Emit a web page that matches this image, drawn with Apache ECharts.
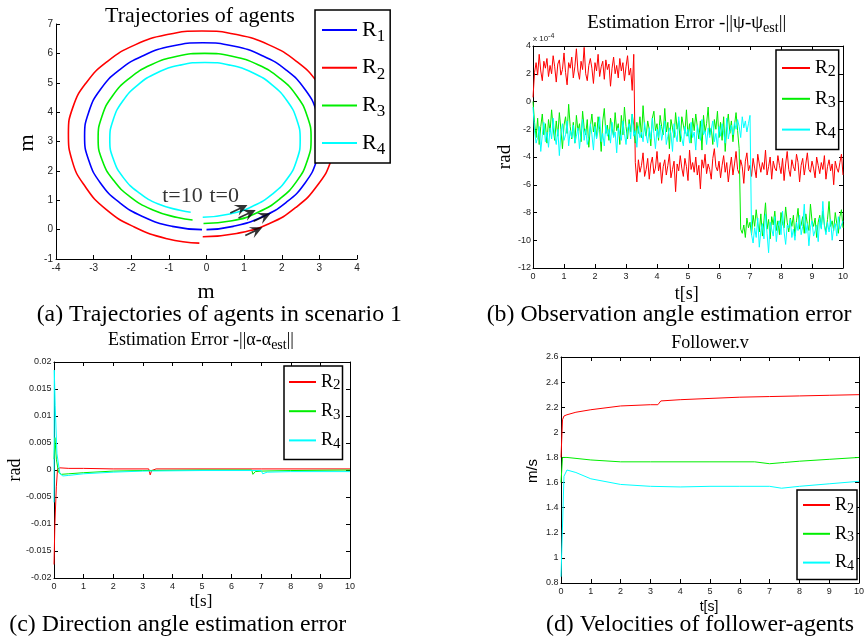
<!DOCTYPE html>
<html><head><meta charset="utf-8">
<script src="https://cdn.jsdelivr.net/npm/echarts@6/dist/echarts.min.js"></script>
<style>html,body{margin:0;padding:0;background:#fff}#c{width:867px;height:638px}</style>
</head><body><div id="c"></div>
<script>
// ---------- Panel (a): trajectories [x, y] in m ----------
const trajR1 = [[0.0,0.0],[0.71,0.11],[1.47,0.43],[2.12,0.93],[2.62,1.59],[2.93,2.36],[3.04,3.18],[2.93,4.00],[2.62,4.77],[2.12,5.43],[1.47,5.93],[0.71,6.25],[-0.1,6.36],[-0.91,6.25],[-1.67,5.93],[-2.32,5.43],[-2.82,4.77],[-3.13,4.00],[-3.24,3.18],[-3.13,2.36],[-2.82,1.59],[-2.32,0.93],[-1.67,0.43],[-0.91,0.11],[-0.12,0.0]];
const trajR2 = [[-0.1,-0.24],[0.80,-0.13],[1.66,0.20],[2.39,0.77],[2.95,1.51],[3.31,2.35],[3.43,3.26],[3.31,4.17],[2.95,5.01],[2.39,5.73],[1.66,6.29],[0.80,6.64],[-0.12,6.76],[-1.04,6.64],[-1.90,6.29],[-2.63,5.73],[-3.19,5.01],[-3.55,4.17],[-3.67,3.26],[-3.57,2.34],[-3.22,1.46],[-2.67,0.69],[-1.92,0.09],[-1.05,-0.31],[-0.19,-0.46]];
const trajR3 = [[-0.08,0.21],[0.68,0.30],[1.37,0.59],[1.95,1.05],[2.40,1.65],[2.68,2.35],[2.78,3.1],[2.68,3.85],[2.40,4.55],[1.95,5.15],[1.37,5.61],[0.68,5.90],[-0.05,6.0],[-0.78,5.90],[-1.47,5.61],[-2.05,5.15],[-2.50,4.55],[-2.78,3.85],[-2.88,3.1],[-2.77,2.35],[-2.47,1.68],[-2.02,1.11],[-1.44,0.68],[-0.77,0.41],[-0.37,0.33]];
const trajR4 = [[-0.1,0.42],[0.62,0.53],[1.23,0.80],[1.75,1.21],[2.15,1.74],[2.40,2.37],[2.49,3.055],[2.40,3.74],[2.15,4.37],[1.75,4.92],[1.23,5.34],[0.62,5.60],[-0.04,5.69],[-0.70,5.60],[-1.31,5.34],[-1.83,4.92],[-2.23,4.37],[-2.48,3.74],[-2.57,3.055],[-2.47,2.38],[-2.21,1.77],[-1.79,1.25],[-1.28,0.87],[-0.68,0.65],[-0.42,0.59]];
const arrowPoints = [[0.86,0.70],[1.08,0.53],[1.48,0.42],[1.26,-0.06]];
const timeLabels = [[-0.64,1.14,'t=10'],[0.47,1.14,'t=0']];

// ---------- Panel (b): observation angle error (x 1e-4 rad), sampled every 0.05 s ----------
const psiStep = 0.05;
const psiR2 = [0.3,2.1,
2.8,1.9,3.4,2.2,1.5,2.9,2.4,3.1,1.8,2.6,
2.0,3.3,2.5,1.4,2.7,3.0,1.9,2.3,3.5,2.1,
1.2,2.8,2.4,3.2,1.7,2.5,3.8,2.2,1.6,2.9,
2.3,3.9,2.0,1.5,2.6,3.1,2.4,1.3,2.8,2.2,
3.4,1.8,2.5,2.9,1.6,3.0,2.3,2.7,1.1,2.4,
3.2,2.0,2.6,1.7,3.1,2.2,2.8,1.5,2.5,3.3,
1.9,2.4,0.8,3.4,
-4.4,
-5.8,-4.2,-5.1,-4.6,-3.7,-5.4,-4.9,-4.1,-5.6,-4.5,
-4.0,-5.2,-4.8,-3.6,-5.0,-4.4,-5.9,-4.7,-4.2,-5.3,
-4.6,-3.8,-5.5,-4.9,-4.3,-6.5,-4.5,-5.0,-3.9,-4.8,
-5.4,-4.1,-4.7,-5.7,-3.5,-4.9,-4.4,-5.1,-4.0,-5.3,
-4.6,-6.3,-4.2,-4.8,-3.8,-5.2,-4.5,-4.9,-5.6,-4.1,
-3.4,-4.7,-5.0,-4.3,-5.5,-4.6,-3.9,-5.1,-4.4,-5.8,
-4.8,-4.0,-5.3,-4.5,-3.6,-4.9,-5.2,-4.2,-4.7,-5.9,
-4.3,-3.7,-5.0,-4.6,-5.4,-4.1,-4.8,-5.5,-3.8,-4.5,
-5.1,-4.4,-4.9,-3.5,-5.3,-4.7,-4.0,-5.6,-4.3,-4.8,
-5.0,-3.9,-4.6,-5.2,-4.1,-5.7,-4.5,-3.6,-4.9,-5.4,
-4.2,-4.7,-5.0,-3.8,-4.4,-5.8,-4.6,-4.1,-5.3,-4.5,
-3.7,-4.9,-5.1,-4.3,-4.8,-5.5,-4.0,-4.6,-5.2,-4.4,
-4.9,-3.9,-5.6,-4.7,-4.2,-5.0,-4.5,-6.0,-4.3,-4.8,
-5.1,-4.4,-3.8,-5.3];
const psiR3 = [0.0,
-1.5,-2.6,-1.2,-3.1,-1.8,-0.9,-2.4,-1.6,-3.0,-1.3,
-2.2,-0.6,-1.9,-2.8,-1.4,-2.5,-0.8,-2.0,-3.4,-1.7,
-1.1,-2.3,-0.2,-1.8,-2.7,-1.5,-3.0,-1.0,-2.1,-1.6,
-2.9,-0.7,-1.9,-2.4,-1.3,-3.3,-1.8,-0.9,-2.2,-1.5,
-2.6,-1.1,-2.0,-3.6,-1.4,-0.5,-2.3,-1.7,-2.8,-1.2,
-1.9,-2.5,-0.8,-2.1,-1.6,-3.1,-1.0,-2.4,-0.4,-1.8,
-2.7,-1.3,-2.2,-0.9,-1.7,-3.0,-1.5,-2.3,-1.1,-2.6,
-0.3,-1.9,-2.5,-1.4,-2.0,-3.2,-1.2,-0.7,-2.1,-1.6,
-2.8,-1.0,-1.8,-2.4,-0.5,-2.2,-1.5,-3.4,-1.3,-1.9,
-2.6,-0.8,-2.0,-1.4,-2.9,-1.1,-1.7,-2.3,-0.6,-2.5,
-1.6,-3.0,-1.2,-2.1,-0.9,-1.8,-2.7,-1.4,-3.5,-1.0,
-2.2,-1.6,-0.4,-2.4,-1.9,-3.1,-1.3,-2.0,-0.7,-2.6,
-1.5,-2.8,-1.1,-3.6,-1.8,-0.9,-2.3,-1.4,-2.9,-1.7,
-0.8,-2.1,-3.4,
-9.2,
-9.5,-8.9,-9.8,-8.4,-9.1,-8.7,-9.6,-8.2,-9.0,-7.8,
-8.8,-9.4,-8.1,-9.7,-8.6,-7.3,-9.2,-8.5,-9.9,-8.3,
-8.9,-7.9,-9.3,-8.6,-9.6,-8.0,-8.8,-9.1,-7.6,-8.7,
-9.4,-8.4,-9.0,-8.2,-9.7,-8.6,-7.7,-9.2,-8.9,-8.3,
-9.5,-8.1,-8.8,-9.3,-7.4,-8.6,-9.0,-8.4,-9.8,-8.7,
-8.2,-9.1,-7.9,-8.9,-9.4,-8.5,-7.2,-9.0,-8.6,-9.3,
-8.0,-8.8,-9.5,-8.3,-7.8,-9.1];
const psiR4 = [-0.4,
-2.1,-3.0,-2.6,-1.8,-3.6,-2.4,-1.5,-2.9,-2.2,-3.3,
-1.9,-2.7,-1.2,-2.5,-3.1,-2.0,-3.9,-2.3,-1.6,-2.8,
-2.4,-1.4,-3.2,-2.1,-2.6,-1.7,-3.0,-2.5,-1.9,-3.4,
-2.2,-1.3,-2.8,-2.0,-3.1,-2.6,-1.6,-2.4,-3.5,-1.8,
-2.7,-2.1,-1.1,-2.9,-2.3,-3.2,-1.7,-2.5,-2.0,-3.0,
-1.5,-2.6,-2.2,-3.7,-1.9,-2.4,-2.8,-1.4,-2.3,-3.1,
-2.0,-1.6,-2.7,-0.9,-2.5,-2.1,-3.3,-1.8,-2.6,-2.2,
-2.9,-1.5,-2.4,-3.0,-1.9,-2.7,-1.2,-2.3,-3.4,-2.0,
-2.6,-1.7,-2.8,-2.2,-1.4,-3.1,-2.5,-1.9,-2.3,-3.6,
-1.6,-2.4,-2.9,-1.1,-2.1,-2.7,-3.2,-1.8,-2.5,-2.0,
-3.0,-1.5,-2.6,-2.2,-3.5,-1.7,-2.3,-2.8,-1.3,-2.4,
-2.1,-3.1,-1.9,-2.6,-2.0,-1.4,-2.9,-2.3,-3.3,-1.8,
-2.5,-1.6,-2.2,-3.0,-1.2,-2.7,-2.1,-1.7,-2.4,-1.5,
-2.0,-1.3,-1.8,-2.6,-1.1,-1.9,-1.4,-2.2,-1.6,-1.0,
-9.6,
-10.2,-9.1,-9.8,-8.4,-10.5,-9.3,-8.8,-9.9,-8.1,-9.5,
-10.9,-8.7,-9.2,-9.7,-8.3,-10.1,-9.0,-8.6,-9.6,-7.9,
-9.4,-10.3,-8.9,-9.1,-8.5,-9.8,-9.2,-10.0,-8.7,-9.3,
-8.2,-9.6,-9.0,-7.4,-9.5,-8.8,-10.4,-9.1,-8.6,-9.7,
-9.3,-8.9,-10.1,-8.4,-9.2,-7.2,-9.0,-9.6,-8.7,-9.4,
-8.5,-10.0,-9.1,-8.8,-9.7,-8.3,-9.2,-8.9,-8.6];

// ---------- Panel (c): direction angle error [t, rad] ----------
const alphaR2 = [[0,-0.0175],[0.03,-0.010],[0.08,-0.003],[0.12,0.0002],[0.2,0.0004],[0.5,0.0003],[1,0.0003],[2,0.0002],[3.2,0.0002],[3.25,-0.0009],[3.3,-0.0001],[3.45,0.0002],[5,0.0002],[7,0.0002],[10,0.0002]];
const alphaR3 = [[0,0.002],[0.03,0.006],[0.08,0.002],[0.15,-0.0004],[0.25,-0.0008],[0.5,-0.0007],[1,-0.0005],[2,-0.0002],[3,-0.0001],[5,0],[6.68,0],[6.72,-0.0008],[6.8,-0.0003],[7,-0.0002],[8,-0.0001],[10,0]];
const alphaR4 = [[0,-0.006],[0.01,0.0185],[0.04,0.012],[0.1,0.003],[0.2,-0.0007],[0.3,-0.0011],[0.5,-0.001],[1,-0.0007],[2,-0.0004],[3,-0.0002],[5,-0.0001],[7.0,-0.0001],[7.05,-0.0007],[7.2,-0.0004],[8,-0.0003],[10,-0.0003]];

// ---------- Panel (d): follower velocities [t, m/s] ----------
const velR2 = [[0,1.8],[0.05,2.1],[0.1,2.13],[0.2,2.14],[0.5,2.16],[1,2.18],[2,2.21],[3,2.22],[3.25,2.22],[3.35,2.25],[4,2.26],[5,2.27],[6,2.28],[7,2.285],[8,2.29],[9,2.295],[10,2.3]];
const velR3 = [[0,1.6],[0.05,1.8],[0.2,1.8],[1,1.78],[2,1.765],[3,1.765],[5,1.765],[6.5,1.765],[7,1.75],[7.5,1.76],[8,1.77],[9,1.785],[10,1.8]];
const velR4 = [[0,0.85],[0.1,1.65],[0.2,1.7],[0.5,1.68],[1,1.63],[2,1.585],[3,1.57],[4,1.565],[5,1.57],[6,1.57],[7,1.57],[7.4,1.555],[8,1.57],[9,1.59],[10,1.61]];

const colors = {R1:'#0000ff', R2:'#ff0000', R3:'#00ee00', R4:'#00ffff'};
const SERIF = 'Liberation Serif';
const SANS = 'Liberation Sans';

const toPairs = arr => arr.map((v, i) => [+(i * psiStep).toFixed(2), v]);

function ax(gridIndex, min, max, interval, position, showLabel, margin, fontSize) {
  return {
    type: 'value', gridIndex, min, max, interval, position,
    axisLine: {show: true, onZero: false, lineStyle: {color: '#000', width: 1}},
    axisTick: {show: true, inside: true, length: 4, lineStyle: {color: '#000'}},
    axisLabel: {show: showLabel, margin: margin, fontSize: fontSize || 9, fontFamily: SANS, color: '#222'},
    splitLine: {show: false}
  };
}

function legend(names, left, top, fs, sfs, lh, slh, iw, gap, padding) {
  return {
    data: names, orient: 'vertical', left, top, itemWidth: iw, itemHeight: 2, itemGap: gap,
    icon: 'rect', padding, selectedMode: false,
    backgroundColor: '#fff', borderColor: '#000', borderWidth: 1.5, borderRadius: 0,
    formatter: n => '{r|R}{s|' + n.slice(1) + '}',
    textStyle: {
      color: '#000',
      rich: {
        r: {fontSize: fs, fontFamily: SERIF, lineHeight: lh, color: '#000'},
        s: {fontSize: sfs, fontFamily: SERIF, lineHeight: slh, verticalAlign: 'bottom', color: '#000'}
      }
    }
  };
}

function line(name, data, xi, yi, width, smooth) {
  return {
    type: 'line', name, data, xAxisIndex: xi, yAxisIndex: yi, showSymbol: false, symbol: 'none',
    smooth: smooth || false, color: colors[name], lineStyle: {width: width, color: colors[name]},
    itemStyle: {color: colors[name]}, silent: true
  };
}

function txt(text, x, y, size, family, opts) {
  return Object.assign({
    type: 'text', x, y, silent: true,
    style: Object.assign({text, fontSize: size, fontFamily: family, fill: '#000', align: 'center', verticalAlign: 'middle'}, (opts && opts.style) || {})
  }, (opts && opts.el) || {});
}

const arrowPath = 'path://M0,4.3 L9,4.3 L5.5,0 L16,5 L5.5,10 L9,5.7 L0,5.7 Z';

const option = {
  animation: false,
  backgroundColor: '#fff',
  grid: [
    {left: 56, top: 24, width: 301, height: 235},
    {left: 533, top: 46, width: 310, height: 222},
    {left: 54, top: 362, width: 296, height: 216},
    {left: 561, top: 357, width: 298, height: 226}
  ],
  xAxis: [
    ax(0, -4, 4, 1, 'bottom', true, 4, 10),
    ax(1, 0, 10, 1, 'bottom', true, 4),
    ax(1, 0, 10, 1, 'top', false, 4),
    ax(2, 0, 10, 1, 'bottom', true, 4),
    ax(2, 0, 10, 1, 'top', false, 4),
    ax(3, 0, 10, 1, 'bottom', true, 4),
    ax(3, 0, 10, 1, 'top', false, 4)
  ],
  yAxis: [
    ax(0, -1, 7, 1, 'left', true, 3, 10),
    ax(1, -12, 4, 2, 'left', true, 2),
    ax(1, -12, 4, 2, 'right', false, 2),
    ax(2, -0.02, 0.02, 0.005, 'left', true, 2.5),
    ax(2, -0.02, 0.02, 0.005, 'right', false, 2.5),
    ax(3, 0.8, 2.6, 0.2, 'left', true, 2.5),
    ax(3, 0.8, 2.6, 0.2, 'right', false, 2.5)
  ],
  legend: [
    legend(['R1','R2','R3','R4'], 315, 10, 22, 17, 30, 8, 35, 11.7, [9,5,5,7]),
    legend(['R2','R3','R4'], 776, 50, 19, 16, 24, 7, 28, 9.3, [8.5,3,8,6]),
    legend(['R2','R3','R4'], 284, 366, 18, 15, 22, 3, 27, 9.2, [7,2,8,5]),
    legend(['R2','R3','R4'], 797, 490, 18, 14, 22, 4, 27, 8.8, [6,3,6,6])
  ],
  series: [
    line('R1', trajR1, 0, 0, 1.6, true),
    line('R2', trajR2, 0, 0, 1.6, true),
    line('R3', trajR3, 0, 0, 1.6, true),
    line('R4', trajR4, 0, 0, 1.6, true),
    {type: 'scatter', name: 'arrows', xAxisIndex: 0, yAxisIndex: 0, data: arrowPoints,
     symbol: arrowPath, symbolSize: [19, 12], symbolRotate: 25, itemStyle: {color: '#000'}, silent: true, z: 5},
    {type: 'scatter', name: 'tlabels', xAxisIndex: 0, yAxisIndex: 0, data: timeLabels,
     symbolSize: 1, itemStyle: {color: 'rgba(0,0,0,0)'}, silent: true,
     label: {show: true, position: 'inside', formatter: p => p.value[2], fontFamily: SERIF, fontSize: 22, color: '#000'}},
    line('R2', toPairs(psiR2), 1, 1, 1),
    line('R3', toPairs(psiR3), 1, 1, 1),
    line('R4', toPairs(psiR4), 1, 1, 1),
    line('R2', alphaR2, 3, 3, 1),
    line('R3', alphaR3, 3, 3, 1),
    line('R4', alphaR4, 3, 3, 1),
    line('R2', velR2, 5, 5, 1),
    line('R3', velR3, 5, 5, 1),
    line('R4', velR4, 5, 5, 1)
  ],
  graphic: [
    txt('Trajectories of agents', 200, 16, 22, SERIF),
    txt('Estimation Error -||ψ-ψ{s|est}||', 686.7, 23.3, 19, SERIF,
        {style: {lineHeight: 24, rich: {s: {fontSize: 14, fontFamily: SERIF, lineHeight: 4, verticalAlign: 'bottom'}}}}),
    txt('Estimation Error -||α-α{s|est}||', 201, 340.7, 18, SERIF,
        {style: {lineHeight: 24, rich: {s: {fontSize: 14, fontFamily: SERIF, lineHeight: 4, verticalAlign: 'bottom'}}}}),
    txt('Follower.v', 710, 343, 18, SERIF),
    txt('x 10{p|-4}', 533, 39, 8, SANS,
        {style: {align: 'left', lineHeight: 12, fill: '#222', rich: {p: {fontSize: 7, fontFamily: SANS, lineHeight: 4, verticalAlign: 'top'}}}}),
    txt('m', 206, 292, 22, SERIF),
    txt('m', 27.5, 143, 22, SERIF, {el: {rotation: Math.PI / 2}}),
    txt('t[s]', 686.7, 294, 18, SERIF),
    txt('rad', 505, 157, 19, SERIF, {el: {rotation: Math.PI / 2}}),
    txt('t[s]', 201, 602, 17, SERIF),
    txt('rad', 15, 470, 18, SERIF, {el: {rotation: Math.PI / 2}}),
    txt('t[s]', 709, 607, 14, SANS),
    txt('m/s', 533, 471, 15, SANS, {el: {rotation: Math.PI / 2}}),
    txt('(a) Trajectories of agents in scenario 1', 36.7, 315, 23.8, SERIF, {style: {align: 'left'}}),
    txt('(b) Observation angle estimation error', 486.7, 315, 23.8, SERIF, {style: {align: 'left'}}),
    txt('(c) Direction angle estimation error', 9.3, 625, 23.8, SERIF, {style: {align: 'left'}}),
    txt('(d) Velocities of follower-agents', 546, 625, 23.8, SERIF, {style: {align: 'left'}})
  ]
};

const chart = echarts.init(document.getElementById('c'), null, {renderer: 'canvas'});
chart.setOption(option);
</script>
</body></html>
